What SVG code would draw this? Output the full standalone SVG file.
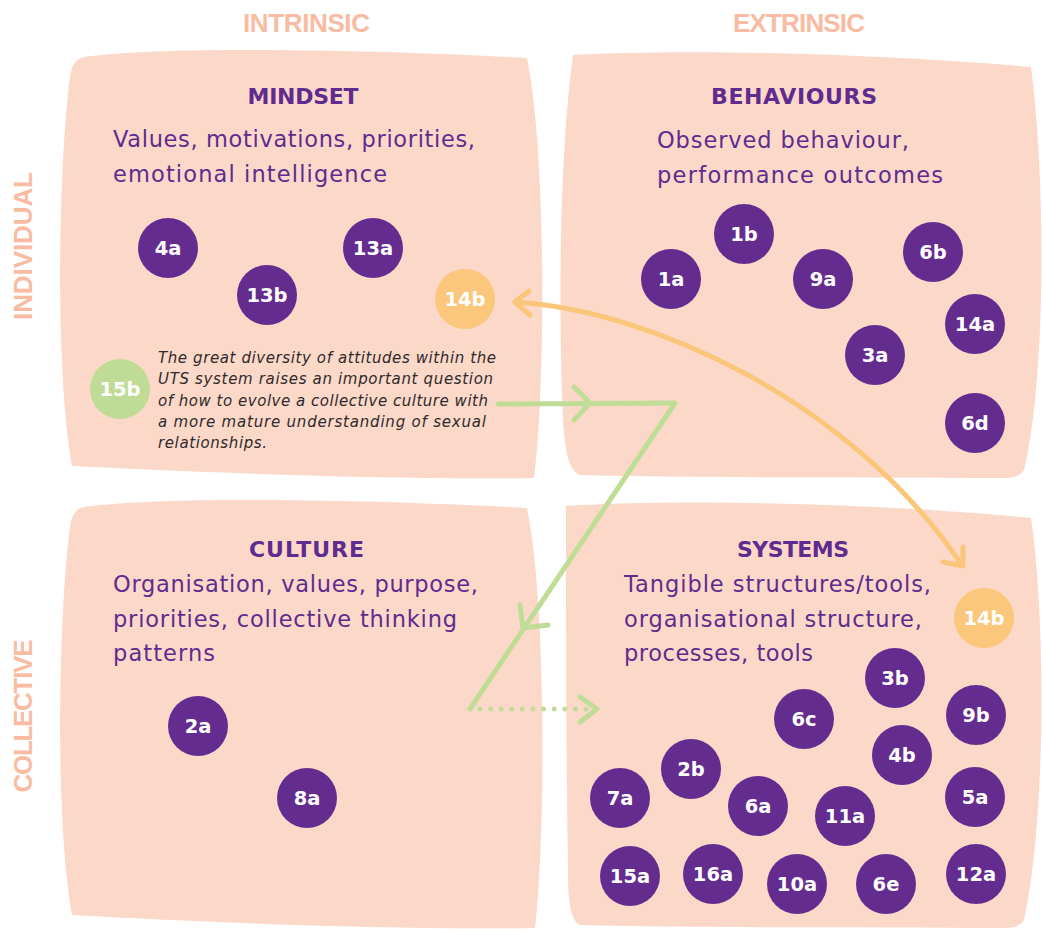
<svg xmlns="http://www.w3.org/2000/svg" width="1043" height="929" viewBox="0 0 1043 929">
<style>
.blob{fill:#FCD8C9}
.axis{font-family:"Liberation Sans",Arial,sans-serif;font-weight:700;font-size:26px;fill:#F9BBA1;text-anchor:middle}
.head{font-family:"DejaVu Sans","Open Sans",sans-serif;font-weight:700;font-size:22px;fill:#5F2B8E;text-anchor:middle}
.body{font-family:"DejaVu Sans","Open Sans",sans-serif;font-weight:400;font-size:22.5px;fill:#5F2B8E}
.note{font-family:"DejaVu Sans","Open Sans",sans-serif;font-style:italic;font-weight:400;font-size:15px;fill:#2E2A2B}
.c{fill:#652C90}
.co{fill:#FAC77C}
.cg{fill:#BFDC96}
.lbl{font-family:"DejaVu Sans","Open Sans",sans-serif;font-weight:700;font-size:19.5px;fill:#FFFFFF;text-anchor:middle}
.ora{fill:none;stroke:#FAC679;stroke-width:5;stroke-linecap:round;stroke-linejoin:round}
.grn{fill:none;stroke:#BFDD97;stroke-width:5;stroke-linecap:round;stroke-linejoin:round}
</style>

<text class="axis" x="306.5" y="32" textLength="127">INTRINSIC</text>
<text class="axis" x="799" y="32" textLength="132">EXTRINSIC</text>
<text class="axis" transform="translate(32,246) rotate(-90)" textLength="148">INDIVIDUAL</text>
<text class="axis" transform="translate(32,716) rotate(-90)" textLength="153">COLLECTIVE</text>

<g id="mindset">
<path class="blob" d="M 84,57 C 180,44 420,52 527,58 C 546,150 546,380 534,478 C 380,480 200,472 72,466 C 56,380 57,180 70,76 C 72,64 76,59 84,57 Z"/>
<text class="head" x="303" y="104" textLength="111">MINDSET</text>
<text class="body" x="113" y="147" textLength="362">Values, motivations, priorities,</text>
<text class="body" x="113" y="182" textLength="274">emotional intelligence</text>
</g>

<g id="behaviours">
<path class="blob" d="M 573,55 C 700,48 900,55 1031,67 C 1046,180 1046,380 1024,470 C 1020,476 1015,477 1008,478 C 850,477 700,478 580,475 C 568,470 565,450 563,420 C 558,300 560,150 573,55 Z"/>
<text class="head" x="794" y="104" textLength="166">BEHAVIOURS</text>
<text class="body" x="657" y="148" textLength="252">Observed behaviour,</text>
<text class="body" x="657" y="183" textLength="286">performance outcomes</text>
</g>

<g id="culture">
<path class="blob" d="M 84,507 C 180,494 420,502 527,508 C 546,600 546,830 535,928 C 380,930 200,922 72,915 C 56,830 57,630 70,526 C 72,514 76,509 84,507 Z"/>
<text class="head" x="306.5" y="557" textLength="115">CULTURE</text>
<text class="body" x="113" y="592" textLength="365">Organisation, values, purpose,</text>
<text class="body" x="113" y="627" textLength="344">priorities, collective thinking</text>
<text class="body" x="113" y="661" textLength="102">patterns</text>
</g>

<g id="systems">
<path class="blob" d="M 566,506 C 700,498 900,505 1031,518 C 1046,620 1046,820 1024,920 C 1020,926 1015,927 1008,928 C 850,927 700,928 580,925 C 570,920 568,900 568,870 C 566,750 566,600 566,506 Z"/>
<text class="head" x="793" y="557" textLength="112">SYSTEMS</text>
<text class="body" x="624" y="592" textLength="307">Tangible structures/tools,</text>
<text class="body" x="624" y="627" textLength="298">organisational structure,</text>
<text class="body" x="624" y="661" textLength="189">processes, tools</text>
</g>

<g id="note-15b">
<text class="note" x="158" y="363" textLength="338">The great diversity of attitudes within the</text>
<text class="note" x="158" y="384" textLength="335">UTS system raises an important question</text>
<text class="note" x="158" y="406" textLength="330">of how to evolve a collective culture with</text>
<text class="note" x="158" y="427" textLength="328">a more mature understanding of sexual</text>
<text class="note" x="158" y="448" textLength="109">relationships.</text>
</g>

<g id="connectors">
<path class="ora" d="M 515,302 C 650,310 850,400 962,565"/>
<path class="ora" d="M 529,291 L 515,302 L 530,315"/>
<path class="ora" d="M 963,547 L 963,566 L 943,562"/>
<path class="grn" d="M 498,404 L 675,403 L 470,709"/>
<path class="grn" d="M 574,387 L 590,403 L 574,420"/>
<path class="grn" d="M 520,605 L 523,628 L 548,625"/>
<path class="grn" d="M 480,709 L 588,709" stroke-dasharray="0 10.6"/>
<path class="grn" d="M 580,697 L 597,709 L 580,722"/>
</g>

<g id="n-4a"><circle class="c" cx="168" cy="248" r="30"/><text class="lbl" x="168" y="255">4a</text></g>
<g id="n-13a"><circle class="c" cx="373" cy="248" r="30"/><text class="lbl" x="373" y="255">13a</text></g>
<g id="n-13b"><circle class="c" cx="267" cy="295" r="30"/><text class="lbl" x="267" y="302">13b</text></g>
<g id="n-14b-top"><circle class="co" cx="465" cy="299" r="30"/><text class="lbl" x="465" y="306">14b</text></g>
<g id="n-15b"><circle class="cg" cx="120" cy="389" r="30"/><text class="lbl" x="120" y="396">15b</text></g>

<g id="n-1b"><circle class="c" cx="744" cy="234" r="30"/><text class="lbl" x="744" y="241">1b</text></g>
<g id="n-1a"><circle class="c" cx="671" cy="279" r="30"/><text class="lbl" x="671" y="286">1a</text></g>
<g id="n-9a"><circle class="c" cx="823" cy="279" r="30"/><text class="lbl" x="823" y="286">9a</text></g>
<g id="n-6b"><circle class="c" cx="933" cy="252" r="30"/><text class="lbl" x="933" y="259">6b</text></g>
<g id="n-14a"><circle class="c" cx="975" cy="324" r="30"/><text class="lbl" x="975" y="331">14a</text></g>
<g id="n-3a"><circle class="c" cx="875" cy="355" r="30"/><text class="lbl" x="875" y="362">3a</text></g>
<g id="n-6d"><circle class="c" cx="975" cy="423" r="30"/><text class="lbl" x="975" y="430">6d</text></g>

<g id="n-2a"><circle class="c" cx="198" cy="726" r="30"/><text class="lbl" x="198" y="733">2a</text></g>
<g id="n-8a"><circle class="c" cx="307" cy="798" r="30"/><text class="lbl" x="307" y="805">8a</text></g>

<g id="n-14b-bottom"><circle class="co" cx="984" cy="618" r="30"/><text class="lbl" x="984" y="625">14b</text></g>
<g id="n-3b"><circle class="c" cx="895" cy="678" r="30"/><text class="lbl" x="895" y="685">3b</text></g>
<g id="n-9b"><circle class="c" cx="976" cy="715" r="30"/><text class="lbl" x="976" y="722">9b</text></g>
<g id="n-6c"><circle class="c" cx="804" cy="719" r="30"/><text class="lbl" x="804" y="726">6c</text></g>
<g id="n-4b"><circle class="c" cx="902" cy="755" r="30"/><text class="lbl" x="902" y="762">4b</text></g>
<g id="n-2b"><circle class="c" cx="691" cy="769" r="30"/><text class="lbl" x="691" y="776">2b</text></g>
<g id="n-7a"><circle class="c" cx="620" cy="798" r="30"/><text class="lbl" x="620" y="805">7a</text></g>
<g id="n-5a"><circle class="c" cx="975" cy="797" r="30"/><text class="lbl" x="975" y="804">5a</text></g>
<g id="n-6a"><circle class="c" cx="758" cy="806" r="30"/><text class="lbl" x="758" y="813">6a</text></g>
<g id="n-11a"><circle class="c" cx="845" cy="816" r="30"/><text class="lbl" x="845" y="823">11a</text></g>
<g id="n-15a"><circle class="c" cx="630" cy="876" r="30"/><text class="lbl" x="630" y="883">15a</text></g>
<g id="n-16a"><circle class="c" cx="713" cy="874" r="30"/><text class="lbl" x="713" y="881">16a</text></g>
<g id="n-10a"><circle class="c" cx="797" cy="884" r="30"/><text class="lbl" x="797" y="891">10a</text></g>
<g id="n-6e"><circle class="c" cx="886" cy="884" r="30"/><text class="lbl" x="886" y="891">6e</text></g>
<g id="n-12a"><circle class="c" cx="976" cy="874" r="30"/><text class="lbl" x="976" y="881">12a</text></g>
</svg>
